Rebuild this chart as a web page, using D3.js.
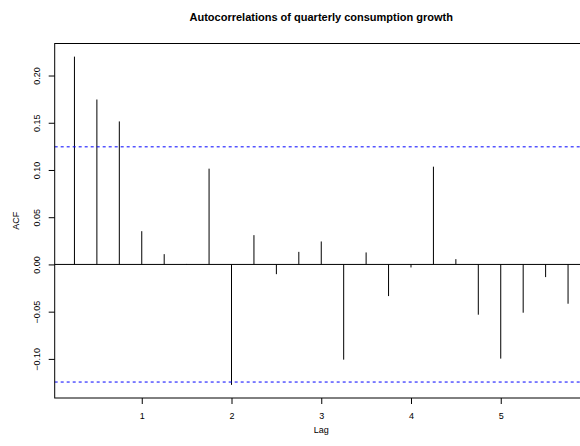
<!DOCTYPE html>
<html>
<head>
<meta charset="utf-8">
<script src="https://cdn.jsdelivr.net/npm/d3@7"></script>
<style>
  html, body { margin: 0; padding: 0; background: #fff; }
  svg { display: block; }
  text { font-family: "Liberation Sans", Arial, Helvetica, sans-serif; fill: #000; }
</style>
</head>
<body>
<svg id="chart" width="580" height="446"></svg>
<script>
// Sample autocorrelations of quarterly consumption growth, lags in years
const lags = [0.25, 0.5, 0.75, 1.0, 1.25, 1.5, 1.75, 2.0, 2.25, 2.5, 2.75, 3.0,
              3.25, 3.5, 3.75, 4.0, 4.25, 4.5, 4.75, 5.0, 5.25, 5.5, 5.75];
const acfValues = [0.220, 0.1746, 0.1514, 0.0352, 0.0109, 0.0005, 0.1014, -0.1275,
                   0.031, -0.0103, 0.0133, 0.0243, -0.1008, 0.0127, -0.0335, -0.0032,
                   0.1035, 0.0056, -0.0532, -0.0997, -0.0511, -0.0134, -0.0416];
// Approximate 95% confidence bound
const confBound = [0.1245];
const xTicks = [1, 2, 3, 4, 5];
const yTicks = [-0.10, -0.05, 0.00, 0.05, 0.10, 0.15, 0.20];

const svg = d3.select("#chart");
const plot = { left: 54.7, right: 587.8, top: 43.5, bottom: 398 };

// Axis ranges padded by 4% on each side
const xr = d3.extent(lags);
const xPad = (xr[1] - xr[0]) * 0.04;
const yr = d3.extent(acfValues.concat(confBound, confBound.map(v => -v)));
const yPad = (yr[1] - yr[0]) * 0.04;

const x = d3.scaleLinear().domain([xr[0] - xPad, xr[1] + xPad]).range([plot.left, plot.right]);
const y = d3.scaleLinear().domain([yr[0] - yPad, yr[1] + yPad]).range([plot.bottom, plot.top]);

// Zero line
svg.append("line")
  .attr("x1", plot.left).attr("x2", plot.right)
  .attr("y1", y(0)).attr("y2", y(0))
  .attr("stroke", "#000").attr("stroke-width", 1);

// Spikes
svg.append("g").selectAll("line")
  .data(lags.map((l, i) => ({ lag: l, v: acfValues[i] })))
  .join("line")
  .attr("x1", d => x(d.lag)).attr("x2", d => x(d.lag))
  .attr("y1", y(0)).attr("y2", d => y(d.v))
  .attr("stroke", "#000").attr("stroke-width", 1);

// Confidence bounds
svg.append("g").selectAll("line")
  .data([confBound[0], -confBound[0]])
  .join("line")
  .attr("x1", plot.left).attr("x2", plot.right)
  .attr("y1", d => y(d)).attr("y2", d => y(d))
  .attr("stroke", "#0000ff").attr("stroke-width", 1)
  .attr("stroke-dasharray", "3,3");

// Box
svg.append("rect")
  .attr("x", plot.left).attr("y", plot.top)
  .attr("width", plot.right - plot.left).attr("height", plot.bottom - plot.top)
  .attr("fill", "none").attr("stroke", "#000").attr("stroke-width", 1);

// X axis
const xAxis = d3.axisBottom(x).tickValues(xTicks).tickFormat(d3.format("d"))
  .tickSize(6).tickPadding(9);
const gx = svg.append("g").attr("transform", `translate(0,${plot.bottom})`).call(xAxis);
gx.select(".domain").remove();
gx.selectAll("text").style("font-size", "9px").attr("font-family", null);
gx.selectAll("line").attr("stroke", "#000");

// Y axis with vertical labels
const yAxis = d3.axisLeft(y).tickValues(yTicks)
  .tickFormat(d => d3.format(".2f")(d).replace("-", "\u2212"))
  .tickSize(6).tickPadding(0);
const gy = svg.append("g").attr("transform", `translate(${plot.left},0)`).call(yAxis);
gy.select(".domain").remove();
gy.selectAll("line").attr("stroke", "#000");
gy.selectAll("text")
  .style("font-size", "9px").attr("font-family", null)
  .attr("x", null).attr("dy", null)
  .attr("text-anchor", "middle")
  .attr("transform", "translate(-17.5,0) rotate(-90)")
  .attr("dy", "0.32em");

// Title and axis labels
svg.append("text")
  .attr("x", (plot.left + plot.right) / 2).attr("y", 21)
  .attr("text-anchor", "middle")
  .style("font-size", "11px").style("font-weight", "bold")
  .text("Autocorrelations of quarterly consumption growth");

svg.append("text")
  .attr("x", (plot.left + plot.right) / 2).attr("y", 432.5)
  .attr("text-anchor", "middle")
  .style("font-size", "9px")
  .text("Lag");

svg.append("text")
  .attr("transform", `translate(18.5,${(plot.top + plot.bottom) / 2}) rotate(-90)`)
  .attr("text-anchor", "middle")
  .style("font-size", "9px")
  .text("ACF");
</script>
</body>
</html>
